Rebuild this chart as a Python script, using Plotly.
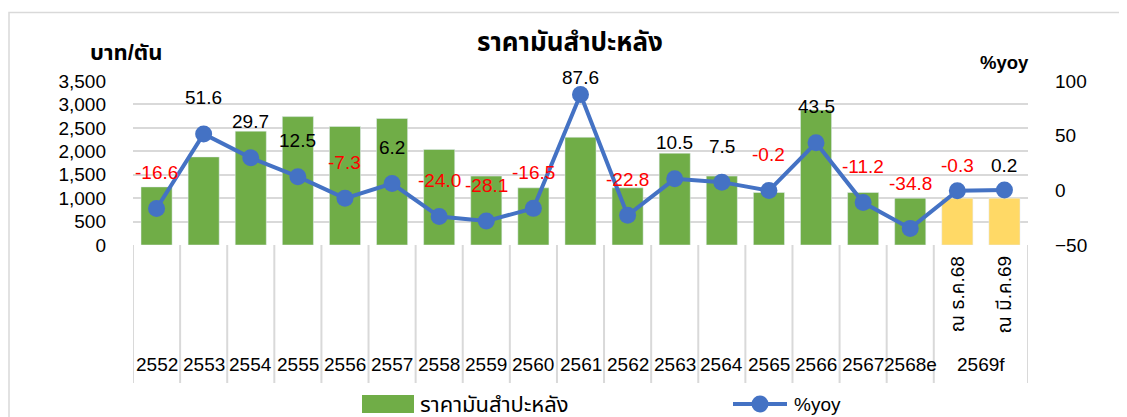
import plotly.graph_objects as go

# data
group_labels = ['2552', '2553', '2554', '2555', '2556', '2557', '2558', '2559', '2560',
                '2561', '2562', '2563', '2564', '2565', '2566', '2567', '2568e', '2569f']
group_sizes = [1] * 17 + [2]
sub_labels = [''] * 17 + ['ณ ธ.ค.68', 'ณ มี.ค.69']
price = [1240, 1880, 2430, 2740, 2530, 2700, 2040, 1470, 1220,
         2300, 1220, 1960, 1470, 1120, 2880, 1120, 1000, 1000, 1000]
yoy = [-16.6, 51.6, 29.7, 12.5, -7.3, 6.2, -24.0, -28.1, -16.5,
       87.6, -22.8, 10.5, 7.5, -0.2, 43.5, -11.2, -34.8, -0.3, 0.2]

FONT = "Arial, 'Liberation Sans', 'Noto Sans Thai', 'Noto Sans', sans-serif"
GREEN = '#70AD47'
YELLOW = '#FFD966'
BLUE = '#4472C4'
GRID = '#D9D9D9'

# page offset from the default body margin
OFF = 8
FIG_W, FIG_H = 1127 - OFF, 417 - OFF

# plot area in page pixels
L, R, T, B = 133, 1028, 81, 245
W, H = R - L, B - T


def px(x):
    return (x - L) / W


def py(y):
    return (B - y) / H


def label(x, y, text, size, xref='paper', yref='paper', **kw):
    d = dict(x=x, y=y, xref=xref, yref=yref, text=text, showarrow=False,
             xanchor='center', yanchor='middle',
             font=dict(size=size, color=kw.pop('color', '#000000')))
    d.update(kw)
    return d


x = list(range(len(price)))
bar_colors = [GREEN if s == '' else YELLOW for s in sub_labels]

fig = go.Figure()
fig.add_trace(go.Bar(x=x, y=price, marker_color=bar_colors, width=0.66,
                     name='ราคามันสำปะหลัง', showlegend=False))
fig.add_trace(go.Scatter(x=x, y=yoy, yaxis='y2', mode='lines+markers',
                         line=dict(color=BLUE, width=4),
                         marker=dict(size=17, color=BLUE),
                         name='%yoy', showlegend=False, cliponaxis=False))

shapes = []
annotations = []

# frame
shapes.append(dict(type='rect', xref='paper', yref='paper',
                   x0=px(9), x1=px(1140), y0=py(430), y1=py(12.5),
                   line=dict(color=GRID, width=1.5), layer='below'))

# category dividers and labels
start = 0
bounds = [-0.5]
for g, n in zip(group_labels, group_sizes):
    centre = start + (n - 1) / 2
    annotations.append(label(centre, py(364), g, 19, xref='x'))
    start += n
    bounds.append(start - 0.5)
for b in bounds:
    shapes.append(dict(type='line', xref='x', yref='paper', x0=b, x1=b,
                       y0=0, y1=py(383), line=dict(color=GRID, width=2)))
for i, s in enumerate(sub_labels):
    if s:
        annotations.append(label(i, py(294), s, 19, xref='x', textangle=-90))

# data labels for %yoy
label_shift = {9: 17, 16: 45, 17: 25, 18: 25}
for i, v in enumerate(yoy):
    annotations.append(label(i, v, f'{v:.1f}', 19, xref='x', yref='y2',
                             yshift=label_shift.get(i, 36),
                             color='#FF0000' if v < 0 else '#000000'))

# titles
annotations.append(label(px(570), py(42), '<b>ราคามันสำปะหลัง</b>', 26))
annotations.append(label(px(126), py(52), '<b>บาท/ตัน</b>', 22))
annotations.append(label(px(1004), py(63), '<b>%yoy</b>', 18.5))

# legend
shapes.append(dict(type='rect', xref='paper', yref='paper', x0=px(362), x1=px(414),
                   y0=py(413), y1=py(395), fillcolor=GREEN, line=dict(width=0)))
annotations.append(label(px(418), py(404), 'ราคามันสำปะหลัง', 22, xanchor='left'))
shapes.append(dict(type='line', xref='paper', yref='paper', x0=px(733), x1=px(787),
                   y0=py(404), y1=py(404), line=dict(color=BLUE, width=4)))
shapes.append(dict(type='circle', xref='paper', yref='paper', x0=px(751.5), x1=px(768.5),
                   y0=py(412.5), y1=py(395.5), fillcolor=BLUE, line=dict(width=0)))
annotations.append(label(px(792), py(404), '%yoy', 19, xanchor='left'))

fig.update_layout(
    width=FIG_W, height=FIG_H,
    margin=dict(l=L - OFF, r=1127 - R, t=T - OFF, b=417 - B),
    plot_bgcolor='white', paper_bgcolor='white',
    font=dict(family=FONT, size=19, color='#000000'),
    bargap=0.34,
    xaxis=dict(range=[-0.5, len(price) - 0.5], showticklabels=False,
               showgrid=False, zeroline=False, showline=False),
    yaxis=dict(range=[0, 3500], dtick=500, tickformat=',', gridcolor=GRID,
               gridwidth=1.5, zeroline=False, showline=False,
               ticklabelstandoff=26, tickfont=dict(size=19)),
    yaxis2=dict(range=[-50, 100], dtick=50, overlaying='y', side='right',
                showgrid=False, zeroline=False, showline=False,
                ticklabelstandoff=26, tickfont=dict(size=19)),
    shapes=shapes,
    annotations=annotations,
    showlegend=False,
)

fig.write_html("out.html")
